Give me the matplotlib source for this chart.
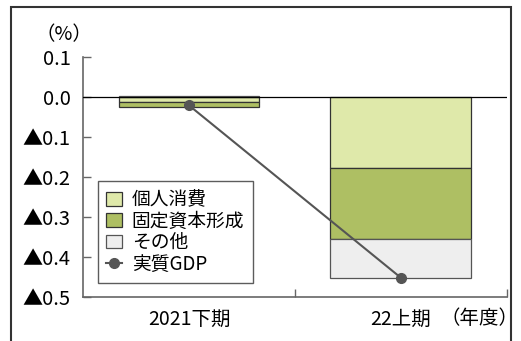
import matplotlib.pyplot as plt
from matplotlib.patches import Rectangle

plt.rcParams['font.family'] = ['Noto Sans CJK JP', 'DejaVu Sans']

periods = ['2021下期', '22上期']
consumption = [-0.013, -0.178]
capital = [-0.013, -0.177]
others = [0.003, -0.097]
real_gdp = [-0.021, -0.452]

yticks = [0.1, 0.0, -0.1, -0.2, -0.3, -0.4, -0.5]
ytick_labels = ['0.1', '0.0', '▲0.1', '▲0.2', '▲0.3', '▲0.4', '▲0.5']

fig = plt.figure(figsize=(5.21, 3.41), dpi=100)
ax = fig.add_axes([0.1593, 0.129, 0.8137, 0.704])

x = list(range(len(periods)))
w = 0.665
ec = '#333333'

b1 = ax.bar(x, consumption, w, color='#dfe9aa', edgecolor=ec, linewidth=0.9, label='個人消費')
b2 = ax.bar(x, capital, w, bottom=consumption, color='#aebf63', edgecolor=ec, linewidth=0.9, label='固定資本形成')
oth_bottom = []
for c, k, o in zip(consumption, capital, others):
    oth_bottom.append(c + k if o < 0 else 0)
b3 = ax.bar(x, others, w, bottom=oth_bottom, color='#eeeeee', edgecolor='#555555', linewidth=0.9, label='その他')

gdp, = ax.plot(x, real_gdp, color='#555555', linewidth=1.5, marker='o', markersize=7,
               markerfacecolor='#555555', markeredgecolor='#555555', label='実質GDP', zorder=5)

ax.axhline(0, color='black', linewidth=0.9, zorder=4)

ax.set_xlim(-0.5, 1.5)
ax.set_ylim(-0.5, 0.1)
ax.set_yticks(yticks)
ax.set_yticklabels(ytick_labels, fontsize=14.5)
ax.set_xticks([0.5, 1.5])
ax.set_xticklabels([])
ax.tick_params(axis='y', direction='in', length=6, color='#666666', width=1, pad=9)
ax.tick_params(axis='x', direction='in', length=6, color='#666666', width=1)
for s in ['top', 'right']:
    ax.spines[s].set_visible(False)
for s in ['left', 'bottom']:
    ax.spines[s].set_color('#666666')
    ax.spines[s].set_linewidth(1.2)

for xi, lab in zip(x, periods):
    ax.text(xi, -0.555, lab, ha='center', va='center', fontsize=14, clip_on=False)
fig.text(480 / 521, 1 - 319 / 341, '（年度）', ha='center', va='center', fontsize=14)
fig.text(64 / 521, 1 - 35 / 341, '（%）', ha='center', va='center', fontsize=14)

leg = ax.legend([b1, b2, b3, gdp], ['個人消費', '固定資本形成', 'その他', '実質GDP'],
                loc='upper left', bbox_to_anchor=(15 / 424, 1 - 124 / 240), fontsize=13.5,
                frameon=True, fancybox=False, edgecolor='#333333', handlelength=0.85,
                handleheight=0.75, handletextpad=0.5, labelspacing=0.02, borderpad=0.45,
                borderaxespad=0)
leg.get_frame().set_linewidth(1.0)

fig.patches.append(Rectangle((11 / 521, -0.1), 500 / 521, 1.1 - 7 / 341,
                             transform=fig.transFigure, fill=False, edgecolor='#333333',
                             linewidth=1.5))

fig.savefig('out.png', dpi=100)
